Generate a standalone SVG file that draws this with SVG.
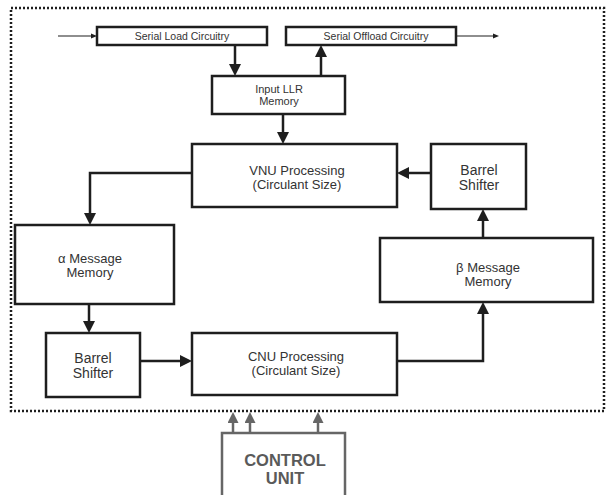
<svg xmlns="http://www.w3.org/2000/svg" width="607" height="495" viewBox="0 0 607 495">
<style>
.box{fill:#fff;stroke:#1e1e1e;stroke-width:2.5}
.cbox{fill:#fff;stroke:#666;stroke-width:2.5}
.t{font-family:"Liberation Sans",Arial,sans-serif;fill:#333;text-anchor:middle}
.s{font-size:10.5px}
.m{font-size:11px}
.l{font-size:13px}
.b{font-size:14px}
.ct{font-family:"Liberation Sans",Arial,sans-serif;font-size:16.5px;font-weight:bold;fill:#5a5a5a;text-anchor:middle}
.w{fill:none;stroke:#1e1e1e;stroke-width:2.5}
.thin{fill:none;stroke:#1e1e1e;stroke-width:1.2}
.g{fill:none;stroke:#666;stroke-width:2.5}
</style>
<defs>
<marker id="ah" markerUnits="userSpaceOnUse" markerWidth="12" markerHeight="12" refX="4" refY="6" orient="auto"><path d="M0,0 L12,6 L0,12 z" fill="#1e1e1e"/></marker>
<marker id="sh" markerUnits="userSpaceOnUse" markerWidth="6" markerHeight="6" refX="1" refY="3" orient="auto"><path d="M0,0.5 L6,3 L0,5.5 z" fill="#1e1e1e"/></marker>
<marker id="gh" markerUnits="userSpaceOnUse" markerWidth="11" markerHeight="11" refX="3" refY="5.5" orient="auto"><path d="M0,0 L11,5.5 L0,11 z" fill="#666"/></marker>
</defs>
<rect x="11" y="8" width="593" height="403" fill="none" stroke="#1e1e1e" stroke-width="2.5" stroke-dasharray="2 2"/>
<g id="connectors">
<line class="thin" x1="58" y1="36" x2="92" y2="36" marker-end="url(#sh)"/>
<line class="thin" x1="456" y1="36" x2="494" y2="36" marker-end="url(#sh)"/>
<line class="w" x1="235" y1="45" x2="235" y2="68" marker-end="url(#ah)"/>
<line class="w" x1="321" y1="76" x2="321" y2="53" marker-end="url(#ah)"/>
<line class="w" x1="283" y1="114" x2="283" y2="136" marker-end="url(#ah)"/>
<line class="w" x1="431" y1="173" x2="405" y2="173" marker-end="url(#ah)"/>
<polyline class="w" points="192,173 90,173 90,217" marker-end="url(#ah)"/>
<line class="w" x1="483" y1="238" x2="483" y2="217" marker-end="url(#ah)"/>
<line class="w" x1="89" y1="304" x2="89" y2="325" marker-end="url(#ah)"/>
<line class="w" x1="140" y1="361" x2="184" y2="361" marker-end="url(#ah)"/>
<polyline class="w" points="397,361 483,361 483,310" marker-end="url(#ah)"/>
<line class="g" x1="233" y1="433" x2="233" y2="420" marker-end="url(#gh)"/>
<line class="g" x1="250" y1="433" x2="250" y2="420" marker-end="url(#gh)"/>
<line class="g" x1="318" y1="433" x2="318" y2="420" marker-end="url(#gh)"/>
</g>
<g id="serial-load"><rect class="box" x="97" y="27" width="170" height="18"/><text class="t s" x="182" y="39.7">Serial Load Circuitry</text></g>
<g id="serial-offload"><rect class="box" x="286" y="27" width="170" height="18"/><text class="t s" x="376" y="39.7">Serial Offload Circuitry</text></g>
<g id="input-llr"><rect class="box" x="212" y="76" width="133" height="38"/><text class="t m" x="279" y="92.5">Input LLR</text><text class="t m" x="279" y="104.5">Memory</text></g>
<g id="vnu"><rect class="box" x="192" y="144" width="205" height="63"/><text class="t l" x="297" y="175">VNU Processing</text><text class="t l" x="297" y="189">(Circulant Size)</text></g>
<g id="barrel-top"><rect class="box" x="431" y="144" width="95" height="65"/><text class="t b" x="479" y="175">Barrel</text><text class="t b" x="479" y="190">Shifter</text></g>
<g id="alpha-mem"><rect class="box" x="15" y="225" width="159" height="79"/><text class="t l" x="90" y="263">α Message</text><text class="t l" x="90" y="277">Memory</text></g>
<g id="beta-mem"><rect class="box" x="380" y="238" width="213" height="64"/><text class="t l" x="488" y="272">β Message</text><text class="t l" x="488" y="286">Memory</text></g>
<g id="barrel-bottom"><rect class="box" x="46" y="333" width="94" height="64"/><text class="t b" x="93" y="363">Barrel</text><text class="t b" x="93" y="378">Shifter</text></g>
<g id="cnu"><rect class="box" x="192" y="333" width="205" height="62"/><text class="t l" x="296" y="361">CNU Processing</text><text class="t l" x="296" y="375">(Circulant Size)</text></g>
<g id="control-unit"><rect class="cbox" x="222" y="433" width="123" height="80"/><text class="ct" x="285" y="466">CONTROL</text><text class="ct" x="285" y="484">UNIT</text></g>
</svg>
